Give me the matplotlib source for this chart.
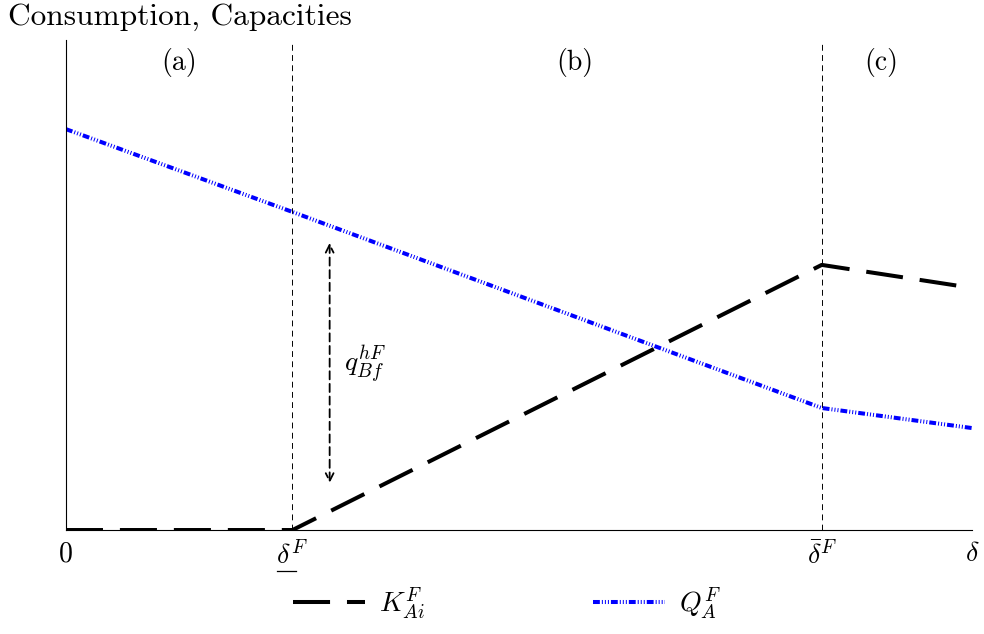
import matplotlib
matplotlib.use('Agg')
import matplotlib.pyplot as plt
from matplotlib.lines import Line2D

plt.rcParams['font.family'] = 'serif'
plt.rcParams['font.serif'] = ['cmr10', 'DejaVu Serif']
plt.rcParams['mathtext.fontset'] = 'cm'
plt.rcParams['axes.formatter.use_mathtext'] = True

# break points on the delta axis
delta_low = 2.5
delta_bar = 8.34
delta_max = 10.0

# K_Ai^F (capacities) and Q_A^F (consumption)
k_x = [0.0, delta_low, delta_bar, delta_max]
k_y = [0.0, 0.0, 5.41, 4.94]
q_x = [0.0, delta_low, delta_bar, delta_max]
q_y = [8.18, 6.49, 2.49, 2.08]

# region labels
regions = ['(a)', '(b)', '(c)']
region_x = [1.25, 5.62, 9.0]
region_y = 9.53

# gap arrow q_Bf^hF
arrow_x = 2.91
arrow_top = 5.86
arrow_bottom = 0.96

fig = plt.figure(figsize=(9.84, 6.34), dpi=100)
ax = fig.add_axes([0.067, 0.164, 0.921, 0.773])

ax.plot(k_x, k_y, color='black', lw=2.9, dashes=(9.2, 4.2),
        label=r'$K^F_{Ai}$')
ax.plot(q_x, q_y, color='blue', lw=2.9,
        dashes=(1.7, 0.5, 0.25, 0.5, 0.25, 0.5, 0.25, 0.5),
        label=r'$Q^F_A$')

for xv in [delta_low, delta_bar]:
    ax.axvline(xv, color='black', lw=0.7, dashes=(6, 4.5), zorder=0)

for lab, xv in zip(regions, region_x):
    ax.text(xv, region_y, lab, ha='center', va='center', fontsize=20)

ax.annotate('', xy=(arrow_x, arrow_bottom), xytext=(arrow_x, arrow_top),
            arrowprops=dict(arrowstyle='<->', color='black', lw=1.3,
                            linestyle=(0, (4.5, 2.5)), shrinkA=0, shrinkB=0,
                            mutation_scale=14))
ax.text(arrow_x + 0.16, 3.37, r'$q^{hF}_{Bf}$', fontsize=20,
        ha='left', va='center')

ax.set_xlim(0, delta_max)
ax.set_ylim(0, 10)
for s in ['top', 'right']:
    ax.spines[s].set_visible(False)
ax.set_yticks([])
ax.set_xticks([0, delta_low, delta_bar, delta_max])
ax.set_xticklabels(['0', r'$\delta^F$', r'$\bar{\delta}^F$', r'$\delta$'],
                   fontsize=20)
ax.tick_params(axis='x', length=0, pad=8)

fig.text(0.008, 0.995, 'Consumption, Capacities', fontsize=22.6,
         ha='left', va='top')

fig.legend(loc='center', bbox_to_anchor=(0.515, 0.048), ncol=2,
           frameon=False, fontsize=20, handlelength=2.6,
           columnspacing=6.05, handletextpad=0.5)

# underline the delta of the lower threshold label (mathtext has no \underline)
fig.canvas.draw()
bb = ax.get_xticklabels()[1].get_window_extent()
x0 = bb.x0 + 1
x1 = bb.x0 + 0.6 * bb.width
yl = bb.y0 - 1
fig.add_artist(Line2D([x0 / fig.bbox.width, x1 / fig.bbox.width],
                      [yl / fig.bbox.height, yl / fig.bbox.height],
                      color='black', lw=0.9))

fig.savefig('out.png', dpi=100)
